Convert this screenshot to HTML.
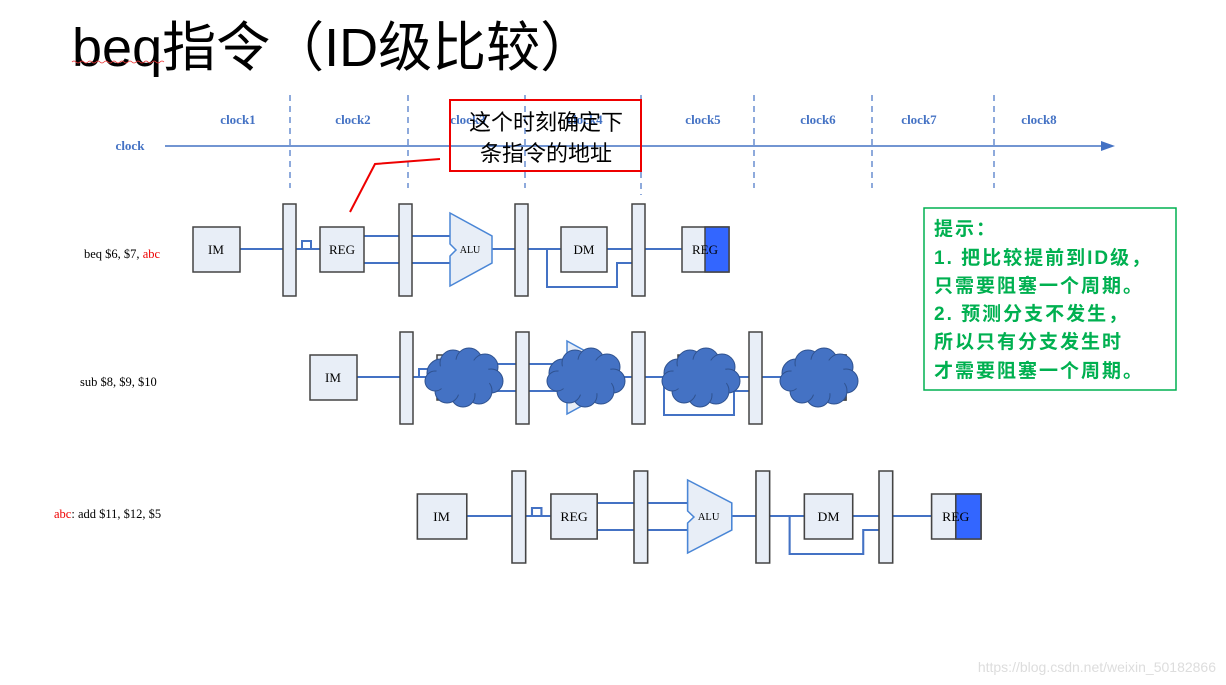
<!DOCTYPE html>
<html><head><meta charset="utf-8"><style>
html,body{margin:0;padding:0;background:#fff;}
svg{display:block;}
.ser{font-family:"Liberation Serif","Noto Serif CJK SC",serif;}
</style></head><body>
<svg width="1226" height="685" viewBox="0 0 1226 685" xmlns="http://www.w3.org/2000/svg">
<defs>
<g id="pipe">
  <g fill="none" stroke="#4472c4" stroke-width="2">
    <path d="M240 249H283M296 249H320M302 249V241H311V249"/>
    <path d="M364 236H450M364 263H450"/>
    <path d="M492 249H561"/>
    <path d="M607 249H682"/>
    <path d="M528 249H547V287H617V263H632"/>
  </g>
  <g fill="#e8eef7" stroke="#444" stroke-width="1.5">
    <rect x="193" y="227" width="47" height="45"/>
    <rect x="320" y="227" width="44" height="45"/>
    <rect x="561" y="227" width="46" height="45"/>
    <rect x="682" y="227" width="47" height="45"/>
    <rect x="283" y="204" width="13" height="92"/>
    <rect x="399" y="204" width="13" height="92"/>
    <rect x="515" y="204" width="13" height="92"/>
    <rect x="632" y="204" width="13" height="92"/>
  </g>
  <rect x="705" y="227" width="24" height="45" fill="#3366ff" stroke="#444" stroke-width="1.5"/>
  <polygon points="450,213 492,236 492,263 450,286 450,256 456,250 450,244" fill="#e8eef7" stroke="#4a86d6" stroke-width="1.5"/>
</g>
<g id="cloud" fill="#4472c4" stroke="#2f528f" stroke-width="1">
  <circle cx="-22" cy="-4" r="14"/><circle cx="-10" cy="-14" r="13"/><circle cx="6" cy="-16" r="13"/>
  <circle cx="22" cy="-10" r="13"/><circle cx="28" cy="4" r="12"/><circle cx="16" cy="14" r="13"/>
  <circle cx="0" cy="18" r="12"/><circle cx="-16" cy="14" r="12"/><circle cx="-28" cy="4" r="10"/>
  <ellipse cx="0" cy="0" rx="28" ry="18" stroke="none"/>
</g>
</defs>

<text x="72" y="66" font-family="Liberation Sans,'Noto Sans CJK SC',sans-serif" font-size="54" fill="#000">beq指令（ID级比较）</text>
<path d="M72 62 q2 -2 4 0 t4 0 t4 0 t4 0 t4 0 t4 0 t4 0 t4 0 t4 0 t4 0 t4 0 t4 0 t4 0 t4 0 t4 0 t4 0 t4 0 t4 0 t4 0 t4 0 t4 0 t4 0 t4 0" fill="none" stroke="#e33" stroke-width="0.8"/>

<g stroke="#4472c4" stroke-width="1.2" stroke-dasharray="6,5">
  <line x1="290" y1="95" x2="290" y2="188"/><line x1="408" y1="95" x2="408" y2="188"/>
  <line x1="525" y1="95" x2="525" y2="188"/><line x1="641" y1="95" x2="641" y2="195"/>
  <line x1="754" y1="95" x2="754" y2="188"/><line x1="872" y1="95" x2="872" y2="188"/>
  <line x1="994" y1="95" x2="994" y2="188"/>
</g>
<line x1="165" y1="146" x2="1104" y2="146" stroke="#4472c4" stroke-width="1.5"/>
<polygon points="1115,146 1101,141 1101,151" fill="#4472c4"/>
<g class="ser" font-size="13" font-weight="bold" fill="#4472c4" text-anchor="middle">
  <text x="130" y="150">clock</text>
  <text x="238" y="124">clock1</text><text x="353" y="124">clock2</text>
  <text x="468" y="124">clock3</text><text x="585" y="124">clock4</text>
  <text x="703" y="124">clock5</text><text x="818" y="124">clock6</text>
  <text x="919" y="124">clock7</text><text x="1039" y="124">clock8</text>
</g>

<rect x="450" y="100" width="191" height="71" fill="none" stroke="#e00" stroke-width="2"/>
<g font-family="Liberation Sans,'Noto Sans CJK SC',sans-serif" font-size="22" fill="#000" text-anchor="middle">
  <text x="546" y="130">这个时刻确定下</text>
  <text x="546" y="161">条指令的地址</text>
</g>
<polyline points="350,212 375,164 440,159" fill="none" stroke="#e00" stroke-width="2"/>

<use href="#pipe"/>
<g class="ser" font-size="13" fill="#000" text-anchor="middle">
  <text x="216" y="254">IM</text><text x="342" y="254">REG</text>
  <text x="470" y="253" font-size="10">ALU</text><text x="584" y="254">DM</text>
  <text x="705" y="254">REG</text>
</g>
<text x="84" y="258" class="ser" font-size="12.5">beq $6, $7, <tspan fill="#e00">abc</tspan></text>

<g transform="translate(117,128)">
  <use href="#pipe"/>
  <text x="216" y="254" class="ser" font-size="13" text-anchor="middle">IM</text>
  <use href="#cloud" transform="translate(346,249)"/>
  <use href="#cloud" transform="translate(468,249)"/>
  <use href="#cloud" transform="translate(583,249)"/>
  <use href="#cloud" transform="translate(701,249)"/>
</g>
<text x="80" y="386" class="ser" font-size="12.5">sub  $8, $9, $10</text>

<g transform="translate(214.4,267) scale(1.0516,1)">
  <use href="#pipe"/>
  <g class="ser" font-size="13" fill="#000" text-anchor="middle">
    <text x="216" y="254">IM</text><text x="342" y="254">REG</text>
    <text x="470" y="253" font-size="10">ALU</text><text x="584" y="254">DM</text>
    <text x="705" y="254">REG</text>
  </g>
</g>
<text x="54" y="518" class="ser" font-size="12.5"><tspan fill="#e00">abc</tspan>:  add $11, $12, $5</text>

<rect x="924" y="208" width="252" height="182" fill="#fff" stroke="#00b050" stroke-width="1.5"/>
<g font-family="Liberation Sans,'Noto Sans CJK SC',sans-serif" font-size="19" font-weight="bold" fill="#00b050" letter-spacing="2">
  <text x="934" y="235">提示：</text>
  <text x="934" y="264">1. 把比较提前到ID级，</text>
  <text x="934" y="292">只需要阻塞一个周期。</text>
  <text x="934" y="320">2. 预测分支不发生，</text>
  <text x="934" y="348">所以只有分支发生时</text>
  <text x="934" y="377">才需要阻塞一个周期。</text>
</g>

<text x="1216" y="672" text-anchor="end" font-family="Liberation Sans,sans-serif" font-size="14" fill="#ddd">https://blog.csdn.net/weixin_50182866</text>
</svg>
</body></html>
